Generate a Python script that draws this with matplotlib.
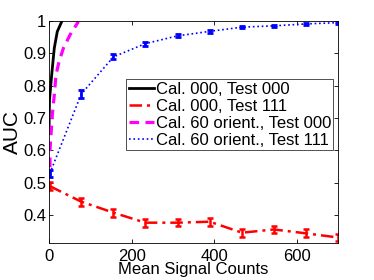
import numpy as np
import matplotlib
matplotlib.use("Agg")
import matplotlib.pyplot as plt

plt.rcParams['font.family'] = ['Liberation Sans', 'DejaVu Sans']

# black: calibration 000, test 000
cal000_t000_x = [0, 1.2, 6.5, 12.8, 20, 30.7]
cal000_t000_y = [0.653, 0.755, 0.833, 0.916, 0.967, 0.998]

# magenta: calibration 60 orient., test 000
cal60_t000_x = [2.4, 2.4, 4.8, 8, 12.8, 16.9, 24.2, 34.6, 50.8, 71]
cal60_t000_y = [0.548, 0.6, 0.647, 0.709, 0.771, 0.833, 0.874, 0.915, 0.957, 0.998]

# error-bar series share the same signal levels
counts = [2, 78, 156, 233, 311, 389, 467, 544, 622, 700]
cal000_t111 = [0.489, 0.441, 0.407, 0.376, 0.376, 0.379, 0.345, 0.355, 0.343, 0.330]
cal000_t111_err = [0.012, 0.012, 0.012, 0.012, 0.01, 0.012, 0.012, 0.01, 0.012, 0.012]
cal60_t111 = [0.528, 0.774, 0.889, 0.930, 0.954, 0.968, 0.981, 0.985, 0.991, 0.995]
cal60_t111_err = [0.012, 0.012, 0.008, 0.006, 0.005, 0.005, 0.004, 0.003, 0.003, 0.003]

labels = ['Cal. 000, Test 000', 'Cal. 000, Test 111',
          'Cal. 60 orient., Test 000', 'Cal. 60 orient., Test 111']

fig = plt.figure(figsize=(3.74, 2.8), dpi=100)
ax = fig.add_axes([0.131, 0.132, 0.7736, 0.793])

h1, = ax.plot(cal000_t000_x, cal000_t000_y, color='black', lw=2)
e2 = ax.errorbar(counts, cal000_t111, yerr=cal000_t111_err, color='red',
                 lw=1.8, ls='-.', capsize=2.5, capthick=1.8, elinewidth=1.8)
e2.lines[0].set_dashes([5, 2, 1.2, 2])
h3, = ax.plot(cal60_t000_x, cal60_t000_y, color='magenta', lw=2.3, ls='--',
              dashes=[3, 2])
e4 = ax.errorbar(counts, cal60_t111, yerr=cal60_t111_err, color='blue',
                 lw=1.2, ls=':', capsize=2.5, capthick=2, elinewidth=2)

ax.set_xlim(0, 700)
ax.set_ylim(0.313, 1)
ax.set_xticks([0, 200, 400, 600])
ax.set_yticks([0.4, 0.5, 0.6, 0.7, 0.8, 0.9, 1])
ax.set_yticklabels(['0.4', '0.5', '0.6', '0.7', '0.8', '0.9', '1'])
ax.tick_params(direction='in', top=True, right=True, labelsize=12, length=3, width=0.6)
ax.tick_params(axis='x', pad=4)
ax.tick_params(axis='y', pad=2)
for s in ax.spines.values():
    s.set_linewidth(0.6)

ax.set_xlabel('Mean Signal Counts', fontsize=12, labelpad=-1)
ax.set_ylabel('AUC', fontsize=15, labelpad=1)

leg = ax.legend([h1, e2.lines[0], h3, e4.lines[0]], labels,
                loc='upper right', bbox_to_anchor=(0.983, 0.737),
                fontsize=12, frameon=True, fancybox=False,
                handlelength=1.5, handletextpad=0.1, borderpad=0.15,
                labelspacing=0.12, borderaxespad=0)
leg.get_frame().set_edgecolor('black')
leg.get_frame().set_linewidth(0.6)

fig.savefig('out.png', dpi=100)
